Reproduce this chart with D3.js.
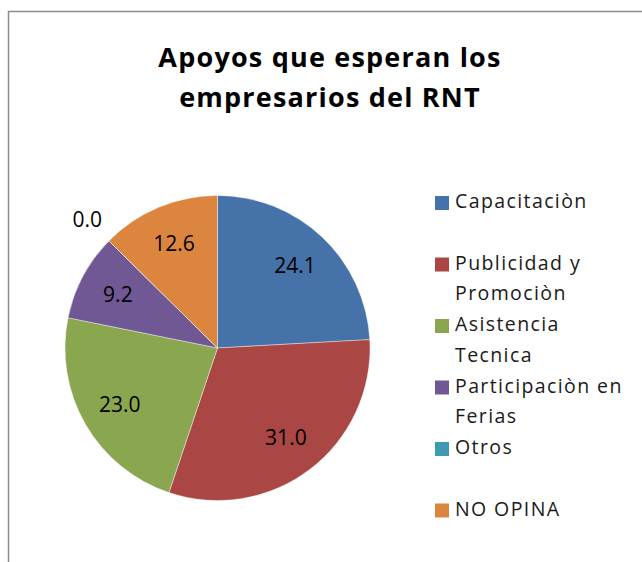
<!DOCTYPE html>
<html>
<head>
<meta charset="utf-8">
<script src="https://cdn.jsdelivr.net/npm/d3@7"></script>
<style>
  body { margin: 0; background: #fff; }
  svg { display: block; }
</style>
</head>
<body>
<svg id="chart" width="642" height="562"></svg>
<script>
const title = ['Apoyos que esperan los', 'empresarios del RNT']
const categories = ['Capacitaciòn', 'Publicidad y Promociòn', 'Asistencia Tecnica', 'Participaciòn en Ferias', 'Otros', 'NO OPINA']
const legendLines = [['Capacitaciòn'], ['Publicidad y', 'Promociòn'], ['Asistencia', 'Tecnica'], ['Participaciòn en', 'Ferias'], ['Otros'], ['NO OPINA']]
const values = [24.1, 31.0, 23.0, 9.2, 0.0, 12.6]
const colors = ['#4672aa', '#aa4644', '#8aa64f', '#6f5893', '#3e9ab0', '#dc853e']

const svg = d3.select('#chart')
const cx = 217.5
const cy = 348
const radius = 152.5

// frame of the chart area
svg.append('rect')
  .attr('x', 8.5)
  .attr('y', 11.5)
  .attr('width', 700)
  .attr('height', 600)
  .attr('fill', 'none')
  .attr('stroke', '#8c8c8c')
  .attr('stroke-width', 1.5)

svg.append('g').selectAll('text')
  .data(title)
  .enter().append('text')
  .attr('x', 330)
  .attr('y', (d, i) => 67 + i * 40)
  .attr('text-anchor', 'middle')
  .style('font-family', 'Open Sans')
  .style('font-weight', 'bold')
  .style('font-size', '27px')
  .style('letter-spacing', '1.2px')
  .attr('fill', '#000')
  .text(d => d)

const data = categories.map((c, i) => ({ name: c, value: values[i], color: colors[i] }))
const pie = d3.pie().sort(null).value(d => d.value)
const arcs = pie(data)
const arc = d3.arc().innerRadius(0).outerRadius(radius)
const labelArc = d3.arc().innerRadius(radius * 0.74).outerRadius(radius * 0.74)
const outArc = d3.arc().innerRadius(radius * 1.2).outerRadius(radius * 1.2)

const g = svg.append('g').attr('transform', `translate(${cx},${cy})`)
g.selectAll('path')
  .data(arcs)
  .enter().append('path')
  .attr('d', arc)
  .attr('fill', d => d.data.color)
  .attr('stroke', '#fff')
  .attr('stroke-width', 0.4)

g.selectAll('text')
  .data(arcs)
  .enter().append('text')
  .attr('transform', d => `translate(${(d.data.value > 0 ? labelArc : outArc).centroid(d)})`)
  .attr('text-anchor', 'middle')
  .attr('dy', '0.35em')
  .style('font-family', 'Open Sans')
  .style('font-size', '21px')
  .attr('fill', '#000')
  .text(d => d3.format('.1f')(d.data.value))

// legend
const legend = svg.append('g').attr('transform', 'translate(435,0)')
const entry = legend.selectAll('g')
  .data(data)
  .enter().append('g')
  .attr('transform', (d, i) => `translate(0,${208 + i * 61.5})`)
entry.append('rect')
  .attr('x', 0)
  .attr('y', -12)
  .attr('width', 14)
  .attr('height', 14)
  .attr('fill', d => d.color)
entry.append('text')
  .attr('x', 20)
  .style('font-family', 'Open Sans')
  .style('font-size', '19.5px')
  .style('letter-spacing', '1.4px')
  .attr('fill', '#1a1a1a')
  .selectAll('tspan')
  .data((d, i) => legendLines[i])
  .enter().append('tspan')
  .attr('x', 20)
  .attr('y', (d, i) => i * 30.7)
  .text(d => d)
</script>
</body>
</html>
